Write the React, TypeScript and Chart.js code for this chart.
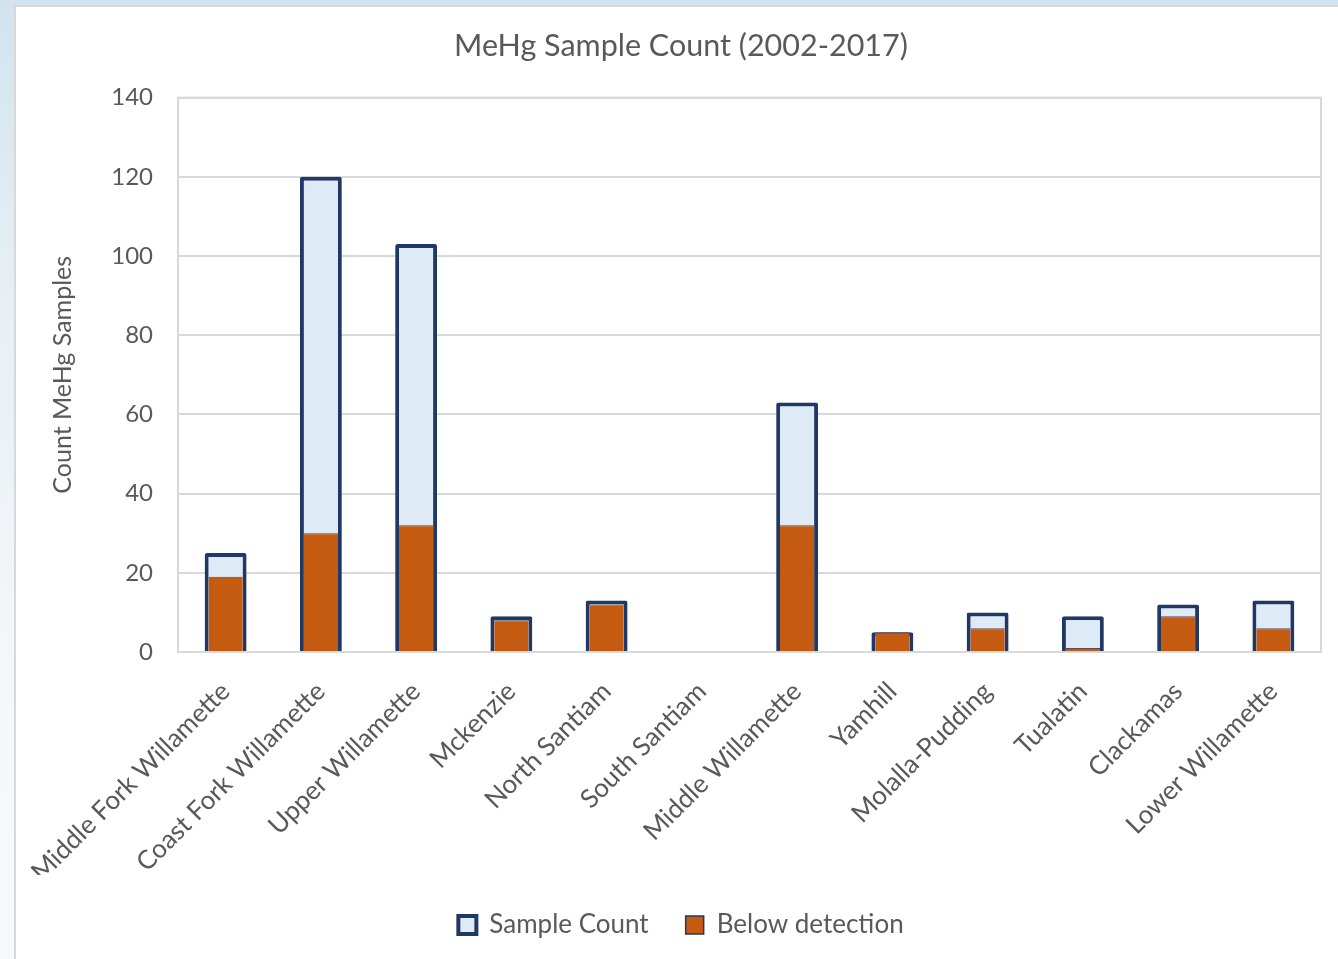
import { useEffect, useRef } from "react";
import { Chart, registerables } from "chart.js";

Chart.register(...registerables);

// Sub-basins along the Willamette, upstream to downstream
const basins = [
  "Middle Fork Willamette",
  "Coast Fork Willamette",
  "Upper Willamette",
  "Mckenzie",
  "North Santiam",
  "South Santiam",
  "Middle Willamette",
  "Yamhill",
  "Molalla-Pudding",
  "Tualatin",
  "Clackamas",
  "Lower Willamette",
];

// Total MeHg samples collected per basin
const sampleCount = [25, 120, 103, 9, 13, 0, 63, 5, 10, 9, 12, 13];

// Samples with results below the detection limit
const belowDetection = [19, 30, 32, 8, 12, 0, 32, 5, 6, 1, 9, 6];

const yMin = 0;
const yMax = 140;
const yStep = 20;

const FONT = "Lato, 'Open Sans', sans-serif";
const TEXT = "#595959";
const GRID = "#d9d9d9";
const NAVY = "#203864";
const PALE = "#deebf7";
const RUST = "#c55a11";

// Outlines the plot area so the right edge gets a frame line too
const plotFrame = {
  id: "plotFrame",
  beforeDatasetsDraw(chart: any) {
    const { ctx, chartArea } = chart;
    ctx.save();
    ctx.strokeStyle = GRID;
    ctx.lineWidth = 2;
    ctx.strokeRect(chartArea.left, chartArea.top, chartArea.right - chartArea.left, chartArea.bottom - chartArea.top);
    ctx.restore();
  },
};

export default function App() {
  const canvasRef = useRef<HTMLCanvasElement | null>(null);

  useEffect(() => {
    if (!canvasRef.current) return;
    const baseLabels = Chart.defaults.plugins.legend.labels.generateLabels;
    const chart = new Chart(canvasRef.current, {
      type: "bar",
      data: {
        labels: basins,
        datasets: [
          {
            label: "Sample Count",
            data: sampleCount,
            backgroundColor: PALE,
            borderColor: NAVY,
            borderWidth: 4,
            borderRadius: 2,
            grouped: false,
            order: 1,
            barPercentage: 0.44,
            categoryPercentage: 1,
          },
          {
            label: "Below detection",
            data: belowDetection,
            backgroundColor: RUST,
            borderColor: "#5a4a55",
            borderWidth: { top: 1, left: 0, right: 0, bottom: 0 },
            borderSkipped: "start",
            grouped: false,
            order: 0,
            barPercentage: 0.36,
            categoryPercentage: 1,
          },
        ],
      },
      options: {
        responsive: false,
        animation: false,
        devicePixelRatio: 1,
        layout: { padding: { left: 41, right: 17, top: 0, bottom: 11 } },
        plugins: {
          title: {
            display: true,
            text: "MeHg Sample Count (2002-2017)",
            color: TEXT,
            font: { family: FONT, size: 30.5, weight: "normal" },
            padding: { top: 28, bottom: 33 },
          },
          legend: {
            position: "bottom",
            labels: {
              color: TEXT,
              font: { family: FONT, size: 26 },
              boxWidth: 18,
              boxHeight: 18,
              padding: 37,
              sort: (a: any, b: any) => a.datasetIndex - b.datasetIndex,
              generateLabels: (c: any) =>
                baseLabels(c).map((item: any) => ({
                  ...item,
                  strokeStyle: NAVY,
                  lineWidth: item.datasetIndex === 0 ? 4 : 1.5,
                })),
            },
          },
          tooltip: { enabled: false },
        },
        scales: {
          x: {
            grid: { display: false, drawTicks: false },
            border: { display: true, color: GRID, width: 2 },
            ticks: {
              color: TEXT,
              font: { family: FONT, size: 26 },
              maxRotation: 45,
              minRotation: 45,
              autoSkip: false,
              padding: 24,
            },
            afterFit: (s: any) => {
              s.height = 223;
            },
          },
          y: {
            min: yMin,
            max: yMax,
            ticks: { stepSize: yStep, color: TEXT, font: { family: FONT, size: 24 }, padding: 25 },
            grid: { color: GRID, lineWidth: 2, drawTicks: false },
            border: { display: true, color: GRID, width: 2 },
            title: {
              display: true,
              text: "Count MeHg Samples",
              color: TEXT,
              font: { family: FONT, size: 25 },
              padding: { top: 7, bottom: 0 },
            },
            afterFit: (s: any) => {
              s.width = 137;
            },
          },
        },
      },
      plugins: [plotFrame],
    });
    return () => chart.destroy();
  }, []);

  return (
    <div
      style={{
        position: "fixed",
        left: 0,
        top: 0,
        width: 1338,
        height: 959,
        overflow: "hidden",
        background: "linear-gradient(to bottom, #d2e3ee 0%, #e6eff5 30%, #f3f7fa 70%, #f7fafc 100%)",
      }}
    >
      <div
        style={{
          position: "absolute",
          left: 14,
          top: 5,
          width: 1340,
          height: 970,
          background: "#ffffff",
          border: "2px solid #d8d8d8",
        }}
      />
      <canvas ref={canvasRef} width={1338} height={959} style={{ position: "absolute", left: 0, top: 0 }} />
    </div>
  );
}
